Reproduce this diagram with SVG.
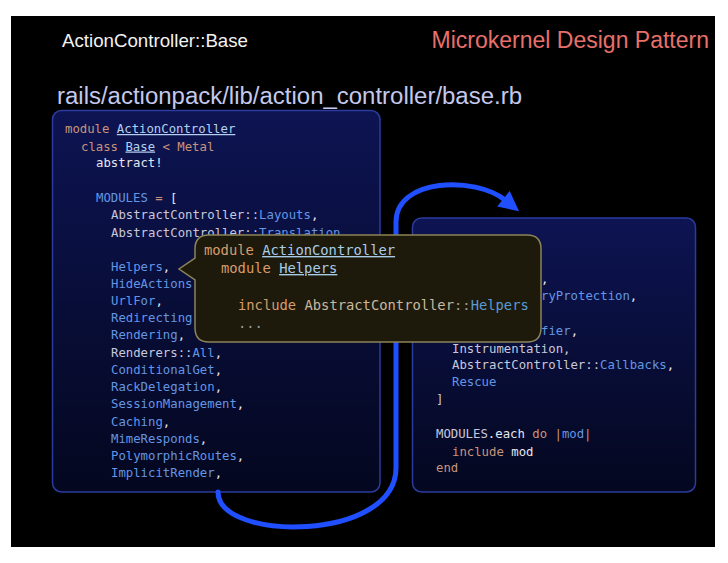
<svg xmlns="http://www.w3.org/2000/svg" width="728" height="563" viewBox="0 0 728 563">
<defs>
<style>
.code{font-family:"DejaVu Sans Mono","Liberation Mono",monospace;font-size:12.3px}
.co{font-family:"DejaVu Sans Mono","Liberation Mono",monospace;font-size:13.8px}
.kw{fill:#c8947c}
.cn{fill:#c8c8da}
.bl{fill:#6496e4}
.wh{fill:#e6e6ee}
.ul{fill:#b4d0f0;text-decoration:underline}
.ck{fill:#d89c6c}
.cu{fill:#a8cce8;text-decoration:underline}
.ct{fill:#c8b8a0}
.cg{fill:#9a9a9a}
.cb{fill:#5a9ad4}
.box{stroke:#2b3b9e;stroke-width:1.5}
.conn{fill:none;stroke:#1f4fff;stroke-width:5;stroke-linecap:round}
</style>
<linearGradient id="boxg" x1="0" y1="0" x2="0" y2="1">
<stop offset="0" stop-color="#0d1452"/>
<stop offset="1" stop-color="#04071f"/>
</linearGradient>
<marker id="arrow" markerUnits="userSpaceOnUse" markerWidth="24" markerHeight="24" viewBox="-4 -12 24 24" refX="0" refY="0" orient="auto">
<path d="M18 0 L-2 -10 L-2 10 Z" fill="#1f4fff"/>
</marker>
</defs>
<rect x="0" y="0" width="728" height="563" fill="#ffffff"/>
<rect x="11" y="16" width="704" height="531" fill="#000000"/>
<g id="header">
<text x="62" y="47" font-family="Liberation Sans, Arial, sans-serif" font-size="18.5" fill="#f2f2f2" textLength="186" lengthAdjust="spacingAndGlyphs">ActionController::Base</text>
<text x="709" y="48" text-anchor="end" font-family="Liberation Sans, Arial, sans-serif" font-size="23" fill="#e8706a">Microkernel Design Pattern</text>
<text x="57" y="104" font-family="Liberation Sans, Arial, sans-serif" font-size="23" fill="#c4c8ec" textLength="465" lengthAdjust="spacingAndGlyphs">rails/actionpack/lib/action_controller/base.rb</text>
</g>
<g id="base-box">
<rect class="box" x="52.5" y="110.5" width="327.5" height="381.5" rx="9" fill="url(#boxg)"/>
<text class="code" x="65" y="133"><tspan class="kw">module</tspan> <tspan class="ul">ActionController</tspan></text>
<text class="code" x="81" y="150.5"><tspan class="kw">class</tspan> <tspan class="ul">Base</tspan> <tspan class="kw">&lt; Metal</tspan></text>
<text class="code wh" x="96" y="167">abstract!</text>
<text class="code" x="96" y="202"><tspan class="bl">MODULES</tspan> <tspan class="kw">=</tspan> <tspan class="wh">[</tspan></text>
<text class="code" x="111" y="219"><tspan class="cn">AbstractController::</tspan><tspan class="bl">Layouts</tspan><tspan class="wh">,</tspan></text>
<text class="code" x="111" y="237"><tspan class="cn">AbstractController::</tspan><tspan class="bl">Translation</tspan></text>
<text class="code" x="111" y="271"><tspan class="bl">Helpers</tspan><tspan class="wh">,</tspan></text>
<text class="code bl" x="111" y="288">HideActions</text>
<text class="code" x="111" y="305"><tspan class="bl">UrlFor</tspan><tspan class="wh">,</tspan></text>
<text class="code bl" x="111" y="322">Redirecting</text>
<text class="code" x="111" y="339"><tspan class="bl">Rendering</tspan><tspan class="wh">,</tspan></text>
<text class="code" x="111" y="356.5"><tspan class="cn">Renderers::</tspan><tspan class="bl">All</tspan><tspan class="wh">,</tspan></text>
<text class="code" x="111" y="373.5"><tspan class="bl">ConditionalGet</tspan><tspan class="wh">,</tspan></text>
<text class="code" x="111" y="391"><tspan class="bl">RackDelegation</tspan><tspan class="wh">,</tspan></text>
<text class="code" x="111" y="408"><tspan class="bl">SessionManagement</tspan><tspan class="wh">,</tspan></text>
<text class="code" x="111" y="425.5"><tspan class="bl">Caching</tspan><tspan class="wh">,</tspan></text>
<text class="code" x="111" y="442.5"><tspan class="bl">MimeResponds</tspan><tspan class="wh">,</tspan></text>
<text class="code" x="111" y="460"><tspan class="bl">PolymorphicRoutes</tspan><tspan class="wh">,</tspan></text>
<text class="code" x="111" y="477"><tspan class="bl">ImplicitRender</tspan><tspan class="wh">,</tspan></text>
</g>
<g id="modules-box">
<rect class="box" x="412.5" y="218" width="283" height="274" rx="9" fill="url(#boxg)"/>
<text class="code wh" x="541" y="283">,</text>
<text class="code" x="541" y="300"><tspan class="bl">ryProtection</tspan><tspan class="wh">,</tspan></text>
<text class="code" x="541" y="335"><tspan class="bl">fier</tspan><tspan class="wh">,</tspan></text>
<text class="code cn" x="452" y="352.5">Instrumentation,</text>
<text class="code" x="452" y="369"><tspan class="cn">AbstractController::</tspan><tspan class="bl">Callbacks</tspan><tspan class="wh">,</tspan></text>
<text class="code bl" x="452" y="386">Rescue</text>
<text class="code cn" x="436" y="403">]</text>
<text class="code" x="436" y="438"><tspan class="cn">MODULES</tspan><tspan class="wh">.each</tspan> <tspan class="kw">do</tspan> <tspan class="kw">|</tspan><tspan class="bl">mod</tspan><tspan class="kw">|</tspan></text>
<text class="code" x="452" y="455.5"><tspan class="kw">include</tspan> <tspan class="wh">mod</tspan></text>
<text class="code kw" x="436" y="472">end</text>
</g>
<g id="connectors">
<path class="conn" d="M218 492 C218 542 396 542 396 468 L396 222 C396 178 475 176 505 200" marker-end="url(#arrow)"/>
</g>
<g id="helpers-callout">
<path d="M209 235 H527 Q541 235 541 249 V328 Q541 342 527 342 H209 Q195 342 195 328 V280 L179 269 L195 258 V249 Q195 235 209 235 Z" fill="#1d1a0b" stroke="#8c8458" stroke-width="1.5"/>
<text class="co" x="204" y="255"><tspan class="ck">module</tspan> <tspan class="cu">ActionController</tspan></text>
<text class="co" x="221" y="273"><tspan class="ck">module</tspan> <tspan class="cu">Helpers</tspan></text>
<text class="co" x="238" y="310"><tspan class="ck">include</tspan> <tspan class="ct">AbstractController</tspan><tspan class="cg">::</tspan><tspan class="cb">Helpers</tspan></text>
<text class="co cg" x="238" y="328">...</text>
</g>
</svg>
